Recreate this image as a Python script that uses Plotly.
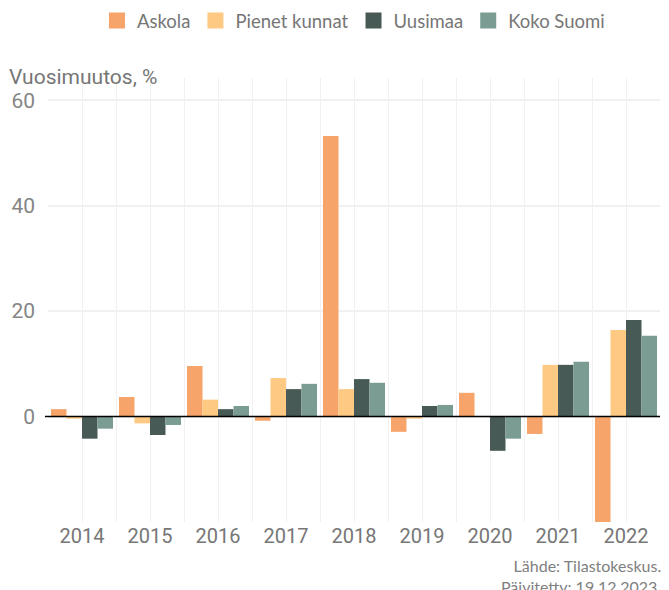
import plotly.graph_objects as go

years = [2014, 2015, 2016, 2017, 2018, 2019, 2020, 2021, 2022]
askola = [1.4, 3.7, 9.6, -0.8, 53.2, -2.9, 4.5, -3.3, -25.0]
pienet_kunnat = [-0.4, -1.3, 3.2, 7.3, 5.2, -0.4, 0.0, 9.8, 16.4]
uusimaa = [-4.2, -3.5, 1.4, 5.2, 7.1, 2.0, -6.5, 9.8, 18.3]
koko_suomi = [-2.3, -1.6, 2.0, 6.2, 6.4, 2.2, -4.2, 10.4, 15.3]
y_ticks = [0, 20, 40, 60]

series = [
    ("Askola", askola, "#f6a469"),
    ("Pienet kunnat", pienet_kunnat, "#fec983"),
    ("Uusimaa", uusimaa, "#475a55"),
    ("Koko Suomi", koko_suomi, "#7a9c93"),
]

fig = go.Figure()
for name, vals, col in series:
    fig.add_trace(go.Bar(x=years, y=vals, name=name, showlegend=False,
                         marker=dict(color=col, line=dict(width=0))))
# legend entries (square swatches)
for name, vals, col in series:
    fig.add_trace(go.Scatter(x=[None], y=[None], mode="markers", name=name,
                             marker=dict(symbol="square", size=18, color=col, line=dict(width=0))))

grid = "#f1f1f1"
fig.update_layout(
    width=661, height=582,
    margin=dict(l=40, r=9, t=70, b=68, autoexpand=False),
    plot_bgcolor="white", paper_bgcolor="white",
    barmode="group", bargap=0.088, bargroupgap=0,
    font=dict(family="Lato", color="#767676"),
    legend=dict(orientation="h", x=0.080, xanchor="left", y=0.9777, yanchor="middle",
                yref="container", font=dict(size=18.5, color="#767676"),
                itemwidth=30, itemsizing="trace", traceorder="normal"),
    showlegend=True,
    xaxis=dict(range=[years[0] - 0.5, years[-1] + 0.5], tickvals=years,
               ticktext=[str(y) for y in years], automargin=False,
               showgrid=True, gridcolor=grid, gridwidth=1.3,
               minor=dict(tick0=2013.5, dtick=1, showgrid=True, gridcolor=grid, gridwidth=1.3),
               zeroline=False, showline=False, ticks="",
               tickfont=dict(family="Roboto", size=20, color="#767676")),
    yaxis=dict(range=[-20, 64.2], tickvals=y_ticks, showgrid=True, gridcolor=grid, gridwidth=2,
               zeroline=False, showline=False, ticks="", ticklabelstandoff=12, automargin=False,
               tickfont=dict(family="Roboto", size=21, color="#858585")),
)

fig.add_shape(type="line", xref="paper", yref="y", x0=-0.005, x1=1.0, y0=0, y1=0,
              line=dict(color="black", width=1.5), layer="above")

fig.add_annotation(text="Vuosimuutos, %", xref="paper", yref="paper", x=0, y=1,
                   xanchor="left", yanchor="middle", xshift=-41, yshift=1, showarrow=False,
                   font=dict(family="Roboto", size=21, color="#767676"))
fig.add_annotation(text="Lähde: Tilastokeskus.<br>Päivitetty: 19.12.2023.", xref="paper", yref="paper",
                   x=1, y=0, xanchor="right", yanchor="top", align="right", xshift=3, yshift=-32,
                   showarrow=False, font=dict(family="Lato", size=16, color="#808080"))

fig.write_html("out.html")
